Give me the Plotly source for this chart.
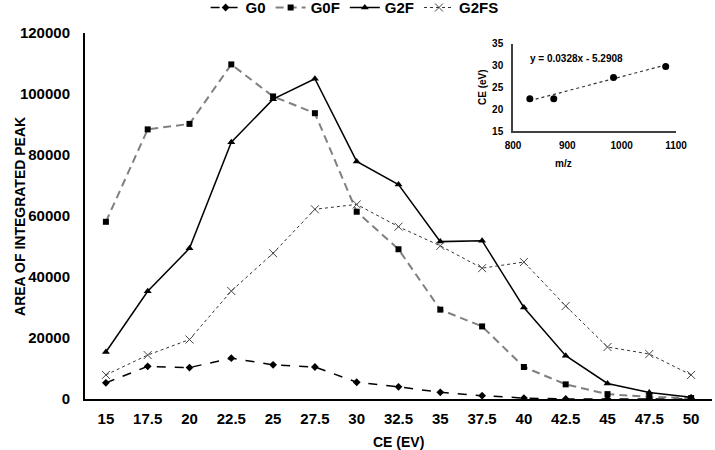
import plotly.graph_objects as go

# ---- data ----
ce_values = [15, 17.5, 20, 22.5, 25, 27.5, 30, 32.5, 35, 37.5, 40, 42.5, 45, 47.5, 50]
ce_labels = ["15", "17.5", "20", "22.5", "25", "27.5", "30", "32.5", "35", "37.5",
             "40", "42.5", "45", "47.5", "50"]
g0 = [5300, 10700, 10300, 13400, 11200, 10500, 5500, 4000, 2200, 1100, 300, 0, 0, 0, 0]
g0f = [58100, 88400, 90200, 109700, 99200, 93700, 61400, 49100, 29300, 23800, 10500, 4800, 1600, 700, 300]
g2f = [15400, 35300, 49400, 84200, 98300, 105000, 77900, 70300, 51600, 51900, 30000, 14200, 5100, 2100, 550]
g2fs = [7900, 14400, 19500, 35400, 47800, 62200, 63800, 56500, 50200, 42900, 44900, 30500, 17050, 14750, 7900]

inset_mz = [831, 875, 985, 1081]
inset_ce = [22.4, 22.4, 27.3, 29.8]
fit_slope = 0.0328
fit_intercept = -5.2908
y_ticks = [0, 20000, 40000, 60000, 80000, 100000, 120000]

FONT = "Liberation Sans"

fig = go.Figure()

fig.add_trace(go.Scatter(
    x=ce_values, y=g0, name="G0", mode="lines+markers",
    line=dict(color="black", width=1.5, dash="dash"),
    marker=dict(symbol="diamond", size=6, color="black")))
fig.add_trace(go.Scatter(
    x=ce_values, y=g0f, name="G0F", mode="lines+markers",
    line=dict(color="#808080", width=2, dash="8px,5px"),
    marker=dict(symbol="square", size=6, color="black")))
fig.add_trace(go.Scatter(
    x=ce_values, y=g2f, name="G2F", mode="lines+markers",
    line=dict(color="black", width=1.5),
    marker=dict(symbol="triangle-up", size=7, color="black")))
fig.add_trace(go.Scatter(
    x=ce_values, y=g2fs, name="G2FS", mode="lines+markers",
    line=dict(color="#333333", width=1, dash="dot"),
    marker=dict(symbol="x-thin", size=8, color="#444444",
                line=dict(color="#444444", width=1))))

# inset
fit_x = [min(inset_mz), max(inset_mz)]
fit_y = [fit_slope * v + fit_intercept for v in fit_x]
fig.add_trace(go.Scatter(
    x=fit_x, y=fit_y, mode="lines", xaxis="x2", yaxis="y2", showlegend=False,
    line=dict(color="#333333", width=1.2, dash="dot")))
fig.add_trace(go.Scatter(
    x=inset_mz, y=inset_ce, mode="markers", xaxis="x2", yaxis="y2", showlegend=False,
    marker=dict(symbol="circle", size=7, color="black")))

tickfont = dict(family=FONT, size=15, color="black", weight="bold")
smallfont = dict(family=FONT, size=10, color="black", weight="bold")

fig.update_layout(
    width=715, height=450,
    margin=dict(l=85, r=3, t=33, b=51, autoexpand=False),
    paper_bgcolor="white", plot_bgcolor="rgba(0,0,0,0)",
    showlegend=True,
    legend=dict(orientation="h", x=0.43, xanchor="center", y=1.069, yanchor="middle",
                font=dict(family=FONT, size=15, color="black", weight="bold"),
                bgcolor="rgba(0,0,0,0)", itemwidth=30, tracegroupgap=0),
    xaxis=dict(range=[13.75, 51.25], tickvals=ce_values, ticktext=ce_labels,
               showgrid=False, zeroline=False, showline=True, linecolor="black",
               linewidth=2, ticks="", tickfont=tickfont, ticklabelstandoff=5),
    yaxis=dict(range=[0, 120000], tickvals=y_ticks, tickformat="d",
               showgrid=False, zeroline=False, showline=True, linecolor="black",
               linewidth=2, ticks="", tickfont=tickfont, ticklabelstandoff=10),
    xaxis2=dict(domain=[0.6826, 0.9426], anchor="y2", range=[800, 1100], dtick=100,
                showgrid=False, zeroline=False, showline=True, linecolor="#404040",
                linewidth=1.5, ticks="", tickfont=smallfont, ticklabelstandoff=4),
    yaxis2=dict(domain=[0.7322, 0.970], anchor="x2", range=[15, 35], dtick=5,
                showgrid=False, zeroline=False, showline=True, linecolor="#404040",
                linewidth=1.5, ticks="", tickfont=smallfont, ticklabelstandoff=6),
    annotations=[
        dict(text="AREA OF INTEGRATED PEAK", xref="paper", yref="paper",
             x=-0.1037, y=0.5, xanchor="center", yanchor="middle",
             textangle=-90, showarrow=False,
             font=dict(family=FONT, size=14, color="black", weight="bold")),
        dict(text="CE (EV)", xref="paper", yref="paper", x=0.5, y=-0.1175,
             xanchor="center", yanchor="middle", showarrow=False,
             font=dict(family=FONT, size=14, color="black", weight="bold")),
        dict(text="CE (eV)", xref="paper", yref="paper", x=0.6348, y=0.8525,
             xanchor="center", yanchor="middle",
             textangle=-90, showarrow=False, font=smallfont),
        dict(text="m/z", xref="paper", yref="paper", x=0.7624, y=0.6448,
             xanchor="center", yanchor="middle", showarrow=False, font=smallfont),
        dict(text=f"y = {fit_slope}x - {abs(fit_intercept)}", xref="paper", yref="paper",
             x=0.7065, y=0.929, xanchor="left", yanchor="middle",
             showarrow=False, font=smallfont),
    ],
)

fig.write_html("out.html", config={"displayModeBar": False},
               post_script="document.body.style.margin='0';document.body.style.overflow='hidden';")
